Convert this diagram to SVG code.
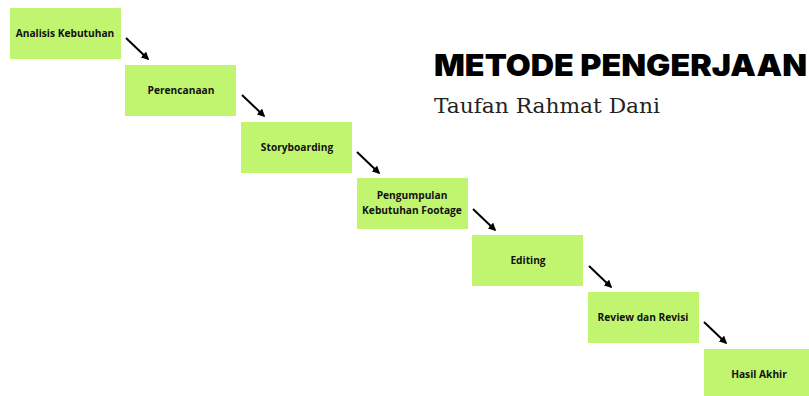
<svg xmlns="http://www.w3.org/2000/svg" width="809" height="396" viewBox="0 0 809 396">
<style>
.box{fill:#c1f56f}
.lbl{font-family:"Open Sans","Liberation Sans",sans-serif;font-weight:700;font-size:10.2px;fill:#111;text-anchor:middle}
.arr{stroke:#000;stroke-width:2;fill:none;marker-end:url(#ah)}
</style>
<defs>
<marker id="ah" viewBox="0 0 10 10" refX="8" refY="5" markerWidth="4" markerHeight="4" orient="auto" markerUnits="strokeWidth">
<path d="M0,0 L10,5 L0,10 Z" fill="#000"/>
</marker>
</defs>
<rect width="809" height="396" fill="#fff"/>
<g id="title">
<text x="434" y="76" font-family="Inter,'Liberation Sans',sans-serif" font-weight="900" font-size="30" fill="#000" textLength="373" lengthAdjust="spacingAndGlyphs">METODE PENGERJAAN</text>
<text x="434" y="113" font-family="'DejaVu Serif','Liberation Serif',serif" font-size="20" fill="#222" textLength="226" lengthAdjust="spacingAndGlyphs">Taufan Rahmat Dani</text>
</g>
<g id="n1"><rect class="box" x="10" y="8" width="111" height="51"/><text class="lbl" x="65" y="37">Analisis Kebutuhan</text></g>
<g id="n2"><rect class="box" x="125" y="65" width="111" height="51"/><text class="lbl" x="181" y="94">Perencanaan</text></g>
<g id="n3"><rect class="box" x="241" y="122" width="111" height="51"/><text class="lbl" x="297" y="151">Storyboarding</text></g>
<g id="n4"><rect class="box" x="357" y="178" width="111" height="51"/><text class="lbl" x="412" y="199">Pengumpulan</text><text class="lbl" x="412" y="214">Kebutuhan Footage</text></g>
<g id="n5"><rect class="box" x="472" y="235" width="111" height="51"/><text class="lbl" x="528" y="264">Editing</text></g>
<g id="n6"><rect class="box" x="588" y="292" width="111" height="51"/><text class="lbl" x="643" y="321">Review dan Revisi</text></g>
<g id="n7"><rect class="box" x="704" y="349" width="111" height="51"/><text class="lbl" x="759" y="378">Hasil Akhir</text></g>
<g id="connectors">
<line class="arr" x1="126" y1="38" x2="148" y2="59"/>
<line class="arr" x1="242" y1="95" x2="264" y2="116"/>
<line class="arr" x1="357" y1="152" x2="379" y2="173"/>
<line class="arr" x1="473" y1="209" x2="495" y2="230"/>
<line class="arr" x1="589" y1="266" x2="611" y2="287"/>
<line class="arr" x1="704" y1="322" x2="726" y2="343"/>
</g>
</svg>
